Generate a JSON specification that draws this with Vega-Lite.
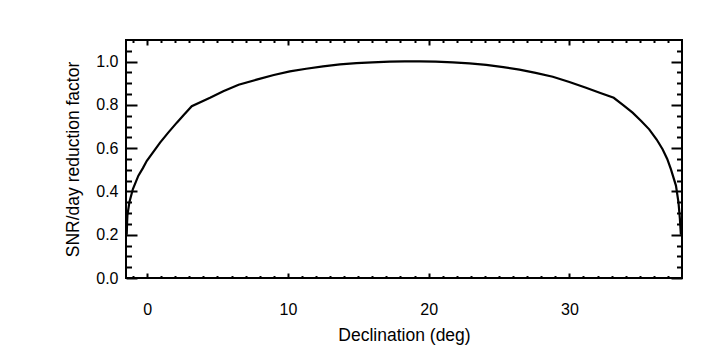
{
  "$schema": "https://vega.github.io/schema/vega-lite/v6.json",
  "width": 556,
  "height": 238,
  "autosize": {"type": "none"},
  "padding": {"left": 126, "top": 40, "right": 38, "bottom": 82},
  "background": "white",
  "config": {
    "view": {"stroke": "black", "strokeWidth": 2},
    "font": "Liberation Sans",
    "axis": {
      "domain": false,
      "grid": false,
      "tickColor": "black",
      "tickWidth": 2,
      "labelColor": "black",
      "labelFont": "Liberation Sans",
      "labelFontSize": 16,
      "titleFont": "Liberation Sans",
      "titleFontSize": 17.5,
      "titleFontWeight": "normal",
      "titleColor": "black"
    }
  },
  "data": {
    "values": [
      {"dec": -1.45, "snr": 0.2},
      {"dec": -1.42, "snr": 0.26},
      {"dec": -1.4, "snr": 0.29},
      {"dec": -1.26, "snr": 0.35},
      {"dec": -1.01, "snr": 0.411},
      {"dec": -0.62, "snr": 0.473},
      {"dec": -0.3, "snr": 0.508},
      {"dec": -0.02, "snr": 0.542},
      {"dec": 0.92, "snr": 0.626},
      {"dec": 1.5, "snr": 0.672},
      {"dec": 2.11, "snr": 0.718},
      {"dec": 2.6, "snr": 0.753},
      {"dec": 3.17, "snr": 0.794},
      {"dec": 4.47, "snr": 0.833},
      {"dec": 5.41, "snr": 0.863},
      {"dec": 6.5, "snr": 0.893},
      {"dec": 7.78, "snr": 0.917},
      {"dec": 9.0, "snr": 0.938},
      {"dec": 10.14, "snr": 0.955},
      {"dec": 11.3, "snr": 0.967},
      {"dec": 12.5, "snr": 0.978},
      {"dec": 13.7, "snr": 0.987},
      {"dec": 14.87, "snr": 0.993},
      {"dec": 16.0, "snr": 0.997},
      {"dec": 17.23, "snr": 1.0},
      {"dec": 18.3, "snr": 1.001},
      {"dec": 19.36, "snr": 1.001},
      {"dec": 20.5, "snr": 1.0},
      {"dec": 21.72, "snr": 0.997},
      {"dec": 22.9, "snr": 0.992},
      {"dec": 24.09, "snr": 0.985},
      {"dec": 25.3, "snr": 0.975},
      {"dec": 26.45, "snr": 0.963},
      {"dec": 27.6, "snr": 0.948},
      {"dec": 28.82, "snr": 0.93},
      {"dec": 30.0, "snr": 0.906},
      {"dec": 31.18, "snr": 0.879},
      {"dec": 32.2, "snr": 0.855},
      {"dec": 33.15, "snr": 0.833},
      {"dec": 33.8, "snr": 0.8},
      {"dec": 34.49, "snr": 0.764},
      {"dec": 35.1, "snr": 0.726},
      {"dec": 35.67, "snr": 0.687},
      {"dec": 36.2, "snr": 0.64},
      {"dec": 36.62, "snr": 0.595},
      {"dec": 36.95, "snr": 0.55},
      {"dec": 37.21, "snr": 0.503},
      {"dec": 37.57, "snr": 0.427},
      {"dec": 37.75, "snr": 0.35},
      {"dec": 37.85, "snr": 0.274},
      {"dec": 37.92, "snr": 0.2}
    ]
  },
  "resolve": {"axis": {"x": "independent", "y": "independent"}},
  "layer": [
    {
      "mark": {"type": "line", "color": "black", "strokeWidth": 2.2, "clip": true},
      "encoding": {
        "x": {
          "field": "dec", "type": "quantitative",
          "scale": {"domain": [-1.5, 38], "nice": false, "zero": false},
          "axis": {"orient": "bottom", "values": [0, 10, 20, 30], "format": "d", "tickSize": -5, "labelPadding": 28, "title": "Declination (deg)", "titlePadding": 9}
        },
        "y": {
          "field": "snr", "type": "quantitative",
          "scale": {"domain": [0, 1.1], "nice": false, "zero": false},
          "axis": {"orient": "left", "values": [0, 0.2, 0.4, 0.6, 0.8, 1.0], "format": ".1f", "tickSize": -11, "labelPadding": 19, "title": "SNR/day reduction factor", "titlePadding": 13}
        }
      }
    },
    {
      "mark": {"type": "line", "strokeOpacity": 0},
      "encoding": {
        "x": {
          "field": "dec", "type": "quantitative",
          "scale": {"domain": [-1.5, 38], "nice": false, "zero": false},
          "axis": {"orient": "top", "values": [0, 10, 20, 30], "tickSize": -5, "labels": false, "title": null}
        },
        "y": {
          "field": "snr", "type": "quantitative",
          "scale": {"domain": [0, 1.1], "nice": false, "zero": false},
          "axis": {"orient": "right", "values": [0, 0.2, 0.4, 0.6, 0.8, 1.0], "tickSize": -11, "labels": false, "title": null}
        }
      }
    },
    {
      "mark": {"type": "line", "strokeOpacity": 0},
      "encoding": {
        "x": {
          "field": "dec", "type": "quantitative",
          "scale": {"domain": [-1.5, 38], "nice": false, "zero": false},
          "axis": {"orient": "bottom", "values": [-1, 1, 2, 3, 4, 5, 6, 7, 8, 9, 11, 12, 13, 14, 15, 16, 17, 18, 19, 21, 22, 23, 24, 25, 26, 27, 28, 29, 31, 32, 33, 34, 35, 36, 37], "tickSize": -2.5, "labels": false, "title": null}
        },
        "y": {
          "field": "snr", "type": "quantitative",
          "scale": {"domain": [0, 1.1], "nice": false, "zero": false},
          "axis": {"orient": "left", "values": [0.05, 0.1, 0.15, 0.25, 0.3, 0.35, 0.45, 0.5, 0.55, 0.65, 0.7, 0.75, 0.85, 0.9, 0.95, 1.05], "tickSize": -5.5, "labels": false, "title": null}
        }
      }
    },
    {
      "mark": {"type": "line", "strokeOpacity": 0},
      "encoding": {
        "x": {
          "field": "dec", "type": "quantitative",
          "scale": {"domain": [-1.5, 38], "nice": false, "zero": false},
          "axis": {"orient": "top", "values": [-1, 1, 2, 3, 4, 5, 6, 7, 8, 9, 11, 12, 13, 14, 15, 16, 17, 18, 19, 21, 22, 23, 24, 25, 26, 27, 28, 29, 31, 32, 33, 34, 35, 36, 37], "tickSize": -2.5, "labels": false, "title": null}
        },
        "y": {
          "field": "snr", "type": "quantitative",
          "scale": {"domain": [0, 1.1], "nice": false, "zero": false},
          "axis": {"orient": "right", "values": [0.05, 0.1, 0.15, 0.25, 0.3, 0.35, 0.45, 0.5, 0.55, 0.65, 0.7, 0.75, 0.85, 0.9, 0.95, 1.05], "tickSize": -5.5, "labels": false, "title": null}
        }
      }
    }
  ]
}
